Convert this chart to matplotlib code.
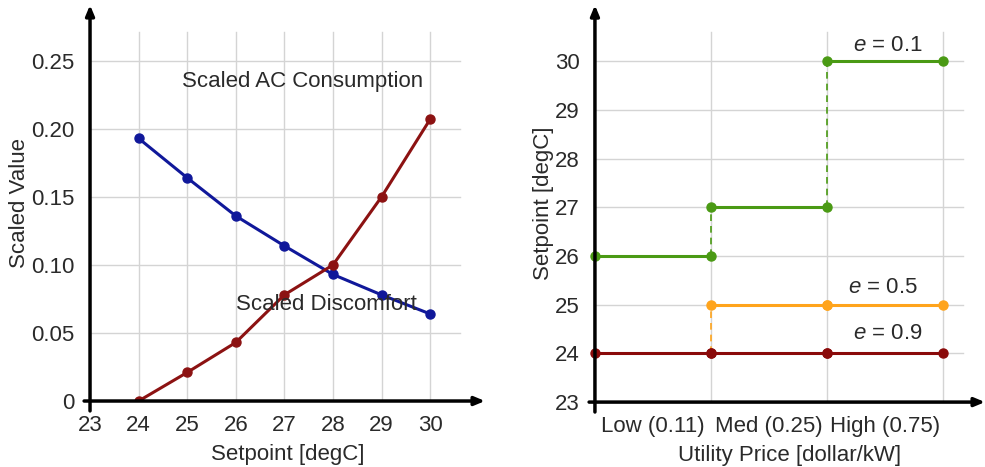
import numpy as np
import matplotlib.pyplot as plt

plt.rcParams['font.family'] = ['Liberation Sans', 'DejaVu Sans']
plt.rcParams['mathtext.fontset'] = 'custom'
plt.rcParams['mathtext.it'] = 'Liberation Sans:italic'

# left panel data
setpoints = [24, 25, 26, 27, 28, 29, 30]
ac_consumption = [0.193, 0.164, 0.136, 0.114, 0.093, 0.078, 0.064]
discomfort = [0.0, 0.021, 0.043, 0.078, 0.100, 0.150, 0.207]

# right panel data (price level index -> setpoint)
price_idx = [0, 1, 2, 3]
price_labels = ['Low (0.11)', 'Med (0.25)', 'High (0.75)']
sp_e01 = [26, 27, 30, 30]
sp_e05 = [24, 25, 25, 25]
sp_e09 = [24, 24, 24, 24]

blue = '#10189a'
red = '#8c1212'
green = '#4a9a14'
orange = '#ffa41c'
dred = '#8a0a0a'
gridc = '#d4d4d4'
txtc = '#2a2a2a'
fs = 16

fig = plt.figure(figsize=(9.85, 4.67), dpi=100)

# ---- left panel
ax1 = fig.add_axes([0.0914, 0.1413, 0.401, 0.848])
ax1.set_xlim(23, 31.13)
ax1.set_ylim(0, 0.291)
for x in setpoints:
    ax1.plot([x, x], [0, 0.271], color=gridc, lw=1, zorder=0)
for y in [0.05, 0.10, 0.15, 0.20, 0.25]:
    ax1.plot([23, 30.62], [y, y], color=gridc, lw=1, zorder=0)
ax1.plot(setpoints, ac_consumption, '-o', color=blue, lw=2.2, ms=6.5, zorder=3)
ax1.plot(setpoints, discomfort, '-o', color=red, lw=2.2, ms=6.5, zorder=3)
ax1.text(27.37, 0.235, 'Scaled AC Consumption', fontsize=fs, ha='center',
         va='center', color=txtc)
ax1.text(27.86, 0.0706, 'Scaled Discomfort', fontsize=fs, ha='center',
         va='center', color=txtc, zorder=4)
ax1.set_xticks(range(23, 31))
ax1.set_yticks([0, 0.05, 0.10, 0.15, 0.20, 0.25])
ax1.set_yticklabels(['0', '0.05', '0.10', '0.15', '0.20', '0.25'])
ax1.set_xlabel('Setpoint [degC]', fontsize=fs, color=txtc, labelpad=6)
ax1.set_ylabel('Scaled Value', fontsize=fs, color=txtc, labelpad=1)

# ---- right panel
ax2 = fig.add_axes([0.604, 0.139, 0.396, 0.850])
ax2.set_xlim(0, 3.36)
ax2.set_ylim(23, 31.15)
for x in price_idx[1:]:
    ax2.plot([x, x], [23, 30.6], color=gridc, lw=1, zorder=0)
for y in range(24, 31):
    ax2.plot([0, 3.17], [y, y], color=gridc, lw=1, zorder=0)

def steps(ax, xs, ys, c, start=0):
    for i in range(start, len(xs) - 1):
        ax.plot([xs[i], xs[i + 1]], [ys[i], ys[i]], '-o', color=c, lw=2.2,
                ms=6.5, zorder=3, clip_on=False)
        if ys[i + 1] != ys[i]:
            ax.plot([xs[i + 1], xs[i + 1]], [ys[i], ys[i + 1]], color=c,
                    lw=1.2, ls=(0, (4, 3)), zorder=2)

steps(ax2, price_idx, sp_e09, dred)
# e = 0.5 starts at Med with a dashed jump up from 24
ax2.plot([1, 1], [sp_e05[0], sp_e05[1]], color=orange, lw=1.2,
         ls=(0, (4, 3)), zorder=2)
steps(ax2, price_idx, sp_e05, orange, start=1)
steps(ax2, price_idx, sp_e01, green)

ax2.text(2.52, 30.33, '$e$ = 0.1', fontsize=fs, ha='center', va='center',
         color=txtc)
ax2.text(2.48, 25.36, '$e$ = 0.5', fontsize=fs, ha='center', va='center',
         color=txtc)
ax2.text(2.52, 24.4, '$e$ = 0.9', fontsize=fs, ha='center', va='center',
         color=txtc)

ax2.set_yticks(range(23, 31))
ax2.set_xticks([0.5, 1.5, 2.5])
ax2.set_xticklabels(price_labels)
ax2.set_xlabel('Utility Price [dollar/kW]', fontsize=fs, color=txtc,
               labelpad=6)
ax2.set_ylabel('Setpoint [degC]', fontsize=fs, color=txtc, labelpad=1)

for ax in (ax1, ax2):
    for s in ax.spines.values():
        s.set_visible(False)
    ax.tick_params(length=0, labelsize=fs, labelcolor=txtc)
    ax.tick_params(axis='x', pad=10)
    ax.tick_params(axis='y', pad=11)
    ax.patch.set_alpha(0)
    # axis arrows in axes coordinates
    ax.annotate('', xy=(1.0, 0), xytext=(-0.015, 0), xycoords='axes fraction',
                arrowprops=dict(arrowstyle='-|>,head_length=0.6,head_width=0.25',
                                color='black', lw=2.5, shrinkA=0, shrinkB=0))
    ax.annotate('', xy=(0, 1.0), xytext=(0, -0.025), xycoords='axes fraction',
                arrowprops=dict(arrowstyle='-|>,head_length=0.6,head_width=0.25',
                                color='black', lw=2.5, shrinkA=0, shrinkB=0))

fig.savefig('out.png', dpi=100)
